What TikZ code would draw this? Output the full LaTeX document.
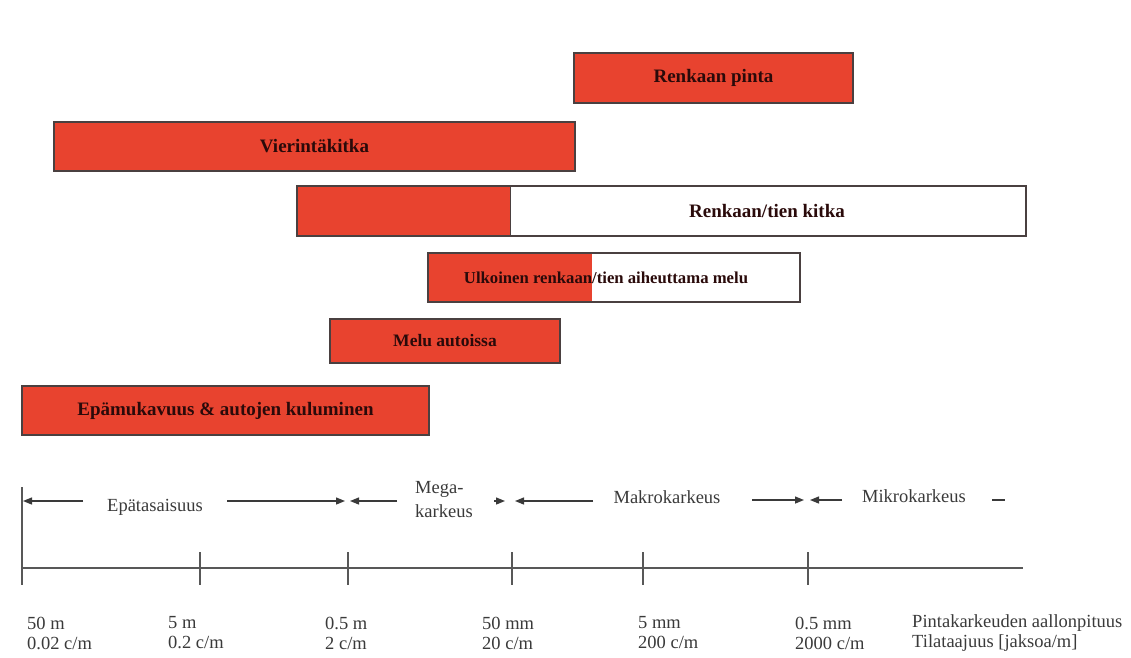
\documentclass[tikz,border=0pt]{standalone}
\usepackage{fontspec}
\setmainfont{Liberation Serif}
\usetikzlibrary{arrows.meta}
\definecolor{boxred}{HTML}{E8432F}
\definecolor{txtgray}{HTML}{3A3A3A}
\definecolor{boxtxt}{HTML}{2A0A0A}
\definecolor{edgecol}{HTML}{4A4040}
\definecolor{linecol}{HTML}{3A3A3A}
\begin{document}
\begin{tikzpicture}[x=1pt,y=-1pt,
  redbox/.style={draw=edgecol, line width=1.4pt, fill=boxred, inner sep=0pt,
    text=boxtxt, font=\fontsize{19}{21}\selectfont\bfseries},
  splitbox/.style={draw=edgecol, line width=1.4pt, fill=white, inner sep=0pt},
  boxlabel/.style={inner sep=0pt, text=boxtxt, font=\fontsize{19}{21}\selectfont\bfseries},
  lab/.style={inner sep=0pt, text=txtgray, font=\fontsize{18.5}{24}\selectfont},
  vallab/.style={inner sep=0pt, text=txtgray, anchor=west, align=left, font=\fontsize{18.5}{20}\selectfont},
  dimline/.style={draw=linecol, line width=1.3pt},
  dimarrow/.style={dimline, -{Triangle[length=9pt,width=7pt]}},
  axisline/.style={draw=linecol!85, line width=1.8pt}
]
\useasboundingbox (0,0) rectangle (1131,657);
\fill[white] (0,0) rectangle (1131,657);

% boxes
\node[redbox, minimum width=279pt, minimum height=50pt] (pinta) at (713.5,78) {Renkaan pinta};
\node[redbox, minimum width=521pt, minimum height=49pt] (vier) at (314.5,146.5) {Vierintäkitka};
\node[splitbox, minimum width=729pt, minimum height=50pt,
  path picture={\fill[boxred] (path picture bounding box.south west) rectangle ([xshift=213pt]path picture bounding box.north west);
  \draw[edgecol, line width=1pt] ([xshift=213pt]path picture bounding box.south west) -- ([xshift=213pt]path picture bounding box.north west);}] (kitka) at (661.5,211) {};
\node[boxlabel] (kitkat) at (767,211) {Renkaan/tien kitka};
\node[splitbox, minimum width=372pt, minimum height=49pt,
  path picture={\fill[boxred] (path picture bounding box.south west) rectangle ([xshift=164pt]path picture bounding box.north west);}] (ulk) at (614,277.5) {};
\node[boxlabel, font=\fontsize{16.7}{19}\selectfont\bfseries] (ulkt) at (606,277.5) {Ulkoinen renkaan/tien aiheuttama melu};
\node[redbox, minimum width=230pt, minimum height=44pt, font=\fontsize{17.5}{20}\selectfont\bfseries] (melu) at (445,341) {Melu autoissa};
\node[redbox, minimum width=407pt, minimum height=49pt] (epa) at (225.5,410.5) {Epämukavuus \& autojen kuluminen};

% axis
\coordinate (ax0) at (22,568);
\coordinate (ax1) at (1023,568);
\draw[axisline] (ax0) -- (ax1);
\draw[axisline] (22,487) -- (22,585);
\foreach \t in {200,348,512,643,808} \draw[axisline] (\t,552) -- (\t,585);

% range labels
\node[lab] (epat) at (155,507) {Epätasaisuus};
\node[lab, anchor=west, align=left] (mega) at (415,500) {Mega-\\karkeus};
\node[lab] (makro) at (667,497) {Makrokarkeus};
\node[lab] (mikro) at (914,496) {Mikrokarkeus};

% range arrows
\coordinate (r1a) at (83,501);   \coordinate (r1b) at (23,501);
\coordinate (r2a) at (227,501);  \coordinate (r2b) at (345,501);
\coordinate (r3a) at (397,501);  \coordinate (r3b) at (350,501);
\coordinate (r4a) at (494,501);  \coordinate (r4b) at (505,501);
\coordinate (r5a) at (593,501);  \coordinate (r5b) at (515,501);
\coordinate (r6a) at (752,500);  \coordinate (r6b) at (804,500);
\coordinate (r7a) at (842,500);  \coordinate (r7b) at (810,500);
\coordinate (r8a) at (992,500);  \coordinate (r8b) at (1005,500);
\draw[dimarrow] (r1a) -- (r1b);
\draw[dimarrow] (r2a) -- (r2b);
\draw[dimarrow] (r3a) -- (r3b);
\draw[dimarrow] (r4a) -- (r4b);
\draw[dimarrow] (r5a) -- (r5b);
\draw[dimarrow] (r6a) -- (r6b);
\draw[dimarrow] (r7a) -- (r7b);
\draw[dimline] (r8a) -- (r8b);

% value labels
\node[vallab] (v1) at (27,633) {50 m\\0.02 c/m};
\node[vallab] (v2) at (168,633) {5 m\\0.2 c/m};
\node[vallab] (v3) at (325,633) {0.5 m\\2 c/m};
\node[vallab] (v4) at (482,633) {50 mm\\20 c/m};
\node[vallab] (v5) at (638,633) {5 mm\\200 c/m};
\node[vallab] (v6) at (795,633) {0.5 mm\\2000 c/m};
\node[vallab] (v7) at (912,633) {Pintakarkeuden aallonpituus\\Tilataajuus [jaksoa/m]};
\end{tikzpicture}
\end{document}
